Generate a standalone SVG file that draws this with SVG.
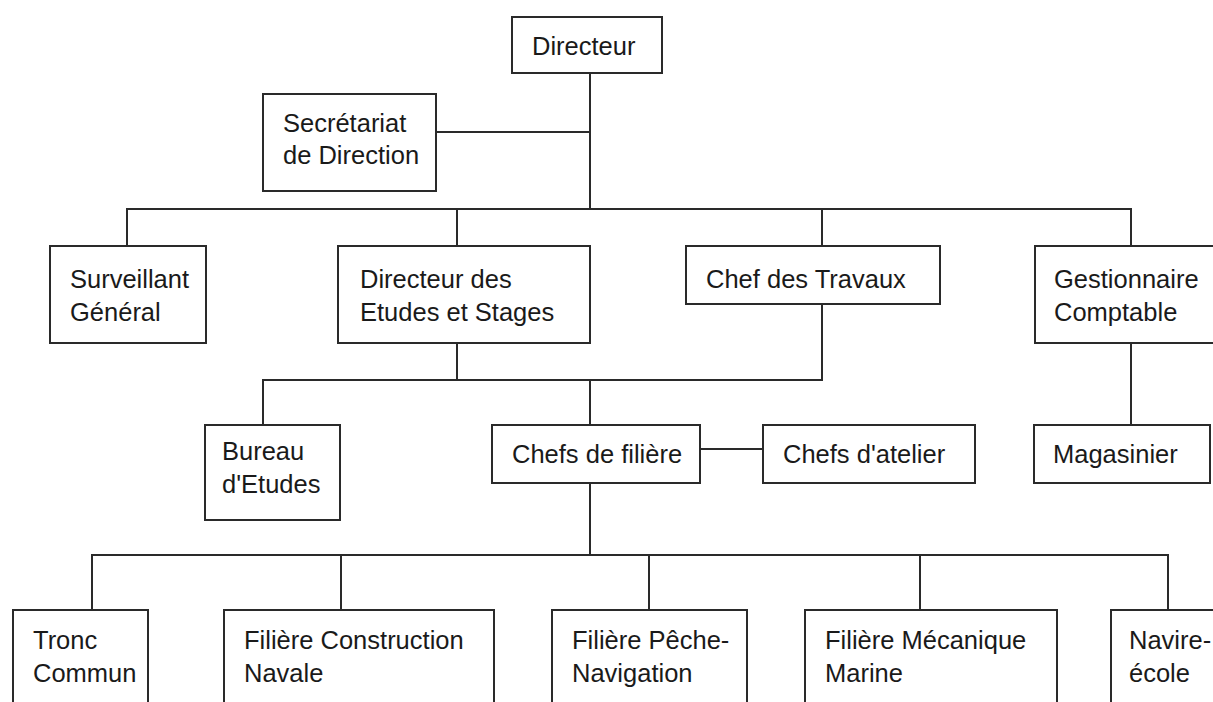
<svg xmlns="http://www.w3.org/2000/svg" width="1213" height="702" viewBox="0 0 1213 702">
<style>
.box{fill:#fff;stroke:#2a2a2a;stroke-width:2}
.ln{fill:none;stroke:#2a2a2a;stroke-width:2}
text{font-family:"Liberation Sans",Arial,sans-serif;font-size:25.5px;fill:#1a1a1a}
</style>
<rect width="1213" height="702" fill="#fff"/>
<g id="connectors">
<path class="ln" d="M590,73 V209"/>
<path class="ln" d="M436,132 H590"/>
<path class="ln" d="M127,246 V209 H1131 V246"/>
<path class="ln" d="M457,209 V246"/>
<path class="ln" d="M822,209 V246"/>
<path class="ln" d="M457,343 V380"/>
<path class="ln" d="M822,304 V380 H263 V425"/>
<path class="ln" d="M590,380 V425"/>
<path class="ln" d="M700,449 H763"/>
<path class="ln" d="M1131,343 V425"/>
<path class="ln" d="M590,483 V555"/>
<path class="ln" d="M92,610 V555 H1168 V610"/>
<path class="ln" d="M341,555 V610"/>
<path class="ln" d="M649,555 V610"/>
<path class="ln" d="M920,555 V610"/>
</g>
<g id="directeur"><rect class="box" x="512" y="17" width="150" height="56"/><text x="532" y="55">Directeur</text></g>
<g id="secretariat"><rect class="box" x="263" y="94" width="173" height="97"/><text x="283" y="132">Secrétariat</text><text x="283" y="164">de Direction</text></g>
<g id="surveillant"><rect class="box" x="50" y="246" width="156" height="97"/><text x="70" y="288">Surveillant</text><text x="70" y="321">Général</text></g>
<g id="directeur-etudes"><rect class="box" x="338" y="246" width="252" height="97"/><text x="360" y="288">Directeur des</text><text x="360" y="321">Etudes et Stages</text></g>
<g id="chef-travaux"><rect class="box" x="686" y="246" width="254" height="58"/><text x="706" y="288">Chef des Travaux</text></g>
<g id="gestionnaire"><rect class="box" x="1035" y="246" width="190" height="97"/><text x="1054" y="288">Gestionnaire</text><text x="1054" y="321">Comptable</text></g>
<g id="bureau"><rect class="box" x="205" y="425" width="135" height="95"/><text x="222" y="460">Bureau</text><text x="222" y="493">d'Etudes</text></g>
<g id="chefs-filiere"><rect class="box" x="492" y="425" width="208" height="58"/><text x="512" y="463">Chefs de filière</text></g>
<g id="chefs-atelier"><rect class="box" x="763" y="425" width="212" height="58"/><text x="783" y="463">Chefs d'atelier</text></g>
<g id="magasinier"><rect class="box" x="1034" y="425" width="176" height="58"/><text x="1053" y="463">Magasinier</text></g>
<g id="tronc"><rect class="box" x="13" y="610" width="135" height="110"/><text x="33" y="649">Tronc</text><text x="33" y="682">Commun</text></g>
<g id="construction"><rect class="box" x="224" y="610" width="270" height="110"/><text x="244" y="649">Filière Construction</text><text x="244" y="682">Navale</text></g>
<g id="peche"><rect class="box" x="552" y="610" width="195" height="110"/><text x="572" y="649">Filière Pêche-</text><text x="572" y="682">Navigation</text></g>
<g id="mecanique"><rect class="box" x="805" y="610" width="252" height="110"/><text x="825" y="649">Filière Mécanique</text><text x="825" y="682">Marine</text></g>
<g id="navire"><rect class="box" x="1111" y="610" width="120" height="110"/><text x="1129" y="649">Navire-</text><text x="1129" y="682">école</text></g>
</svg>
